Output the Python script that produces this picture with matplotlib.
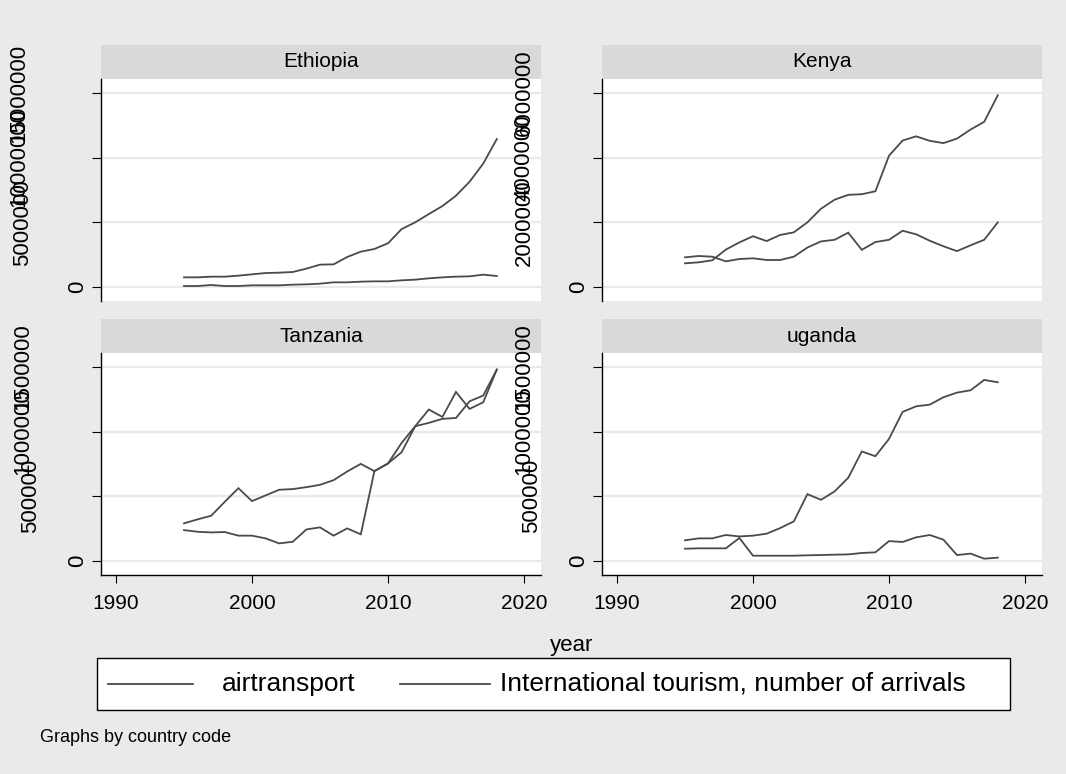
import matplotlib
matplotlib.use("Agg")
import matplotlib.pyplot as plt
from matplotlib import transforms as mtransforms
from matplotlib.patches import Rectangle
from matplotlib.lines import Line2D

plt.rcParams["font.family"] = ["Liberation Sans", "DejaVu Sans"]

# ---------------------------------------------------------------- data
years = list(range(1995, 2019))
countries = ["Ethiopia", "Kenya", "Tanzania", "uganda"]
series_labels = ["airtransport", "International tourism, number of arrivals"]

air_ethiopia = [747e3, 747e3, 799e3, 799e3, 876e3, 979e3, 1.08e6, 1.11e6,
                1.16e6, 1.42e6, 1.73e6, 1.75e6, 2.32e6, 2.73e6, 2.94e6, 3.38e6,
                4.48e6, 5.00e6, 5.64e6, 6.26e6, 7.06e6, 8.14e6, 9.54e6, 11.44e6]
tour_ethiopia = [77e3, 77e3, 155e3, 77e3, 77e3, 129e3, 129e3, 129e3,
                 180e3, 206e3, 258e3, 361e3, 361e3, 412e3, 438e3, 438e3,
                 515e3, 567e3, 670e3, 747e3, 799e3, 825e3, 954e3, 850e3]

air_kenya = [732e3, 763e3, 825e3, 1.155e6, 1.38e6, 1.57e6, 1.42e6, 1.61e6,
             1.69e6, 2.00e6, 2.42e6, 2.70e6, 2.85e6, 2.87e6, 2.96e6, 4.06e6,
             4.53e6, 4.66e6, 4.52e6, 4.45e6, 4.59e6, 4.87e6, 5.11e6, 5.93e6]
tour_kenya = [917e3, 959e3, 938e3, 794e3, 866e3, 887e3, 835e3, 835e3,
              938e3, 1.22e6, 1.41e6, 1.46e6, 1.68e6, 1.15e6, 1.39e6, 1.46e6,
              1.74e6, 1.63e6, 1.43e6, 1.26e6, 1.11e6, 1.29e6, 1.46e6, 2.00e6]

air_tanzania = [239e3, 226e3, 221e3, 224e3, 196e3, 196e3, 175e3, 136e3,
                149e3, 244e3, 260e3, 196e3, 252e3, 206e3, 695e3, 754e3,
                913e3, 1.042e6, 1.171e6, 1.114e6, 1.307e6, 1.176e6, 1.227e6, 1.48e6]
tour_tanzania = [291e3, 322e3, 350e3, 458e3, 563e3, 463e3, 507e3, 551e3,
                 556e3, 571e3, 589e3, 625e3, 692e3, 751e3, 695e3, 754e3,
                 841e3, 1.042e6, 1.068e6, 1.099e6, 1.106e6, 1.235e6, 1.279e6, 1.48e6]

air_uganda = [95e3, 98e3, 98e3, 98e3, 178e3, 41e3, 41e3, 41e3,
              41e3, 44e3, 46e3, 49e3, 51e3, 62e3, 67e3, 154e3,
              147e3, 183e3, 201e3, 165e3, 46e3, 57e3, 18e3, 26e3]
tour_uganda = [160e3, 175e3, 175e3, 201e3, 190e3, 196e3, 211e3, 255e3,
               306e3, 517e3, 473e3, 538e3, 643e3, 847e3, 810e3, 944e3,
               1.153e6, 1.196e6, 1.209e6, 1.266e6, 1.302e6, 1.32e6, 1.40e6, 1.382e6]

air_series = [air_ethiopia, air_kenya, air_tanzania, air_uganda]
tour_series = [tour_ethiopia, tour_kenya, tour_tanzania, tour_uganda]
y_steps = [5_000_000, 2_000_000, 500_000, 500_000]
x_ticks = [1990, 2000, 2010, 2020]

# ---------------------------------------------------------------- style
W, H = 1066, 774
BG = "#EAEAEA"
STRIP = "#D9D9D9"
LINE = "#4a4a4a"
GRID = "#EAEAEA"

fig = plt.figure(figsize=(W / 100, H / 100), dpi=100, facecolor=BG)

# panel boxes in pixels: left, top, right, bottom
boxes = [(101, 79, 541, 301), (602, 79, 1042, 301),
         (101, 353, 541, 575), (602, 353, 1042, 575)]
strip_h = 34


def add_px_axes(x0, y0, x1, y1):
    return fig.add_axes([x0 / W, 1 - y1 / H, (x1 - x0) / W, (y1 - y0) / H])


# horizontal distance (px) from the y axis to the centre of a rotated label
label_offset = {1: 23, 6: 70.5, 7: 78, 8: 82}

for i, (box, name) in enumerate(zip(boxes, countries)):
    ax = add_px_axes(*box)
    ax.set_facecolor("white")
    bottom_row = i >= 2
    ph = box[3] - box[1]

    ax.plot(years, air_series[i], color=LINE, lw=1.3, solid_joinstyle="miter")
    ax.plot(years, tour_series[i], color=LINE, lw=1.3, solid_joinstyle="miter")

    step = y_steps[i]
    ticks = [0, step, 2 * step, 3 * step]
    ax.set_ylim(-0.2165 * step, 3.2165 * step)
    ax.set_xlim(1988.897, 2021.25)
    ax.set_yticks(ticks)
    ax.tick_params(axis="y", length=6.5, width=0.8, color="black", labelleft=False)
    ax.grid(axis="y", color=GRID, lw=1.6)
    ax.set_axisbelow(True)

    for s in ("top", "right"):
        ax.spines[s].set_visible(False)
    ax.spines["left"].set_color("black")
    ax.spines["left"].set_linewidth(1.0)
    if bottom_row:
        ax.spines["bottom"].set_color("black")
        ax.spines["bottom"].set_linewidth(1.0)
        ax.set_xticks(x_ticks)
        ax.set_xticklabels([str(t) for t in x_ticks])
        ax.tick_params(axis="x", length=6, width=0.8, color="black",
                       pad=8, labelsize=15)
    else:
        ax.spines["bottom"].set_visible(False)
        ax.tick_params(axis="x", bottom=False, labelbottom=False)

    # rotated y tick labels
    base = mtransforms.blended_transform_factory(ax.transAxes, ax.transData)
    for v in ticks:
        txt = str(int(v))
        off = label_offset.get(len(txt), 23 + 9.3 * (len(txt) - 1))
        tr = base + mtransforms.ScaledTranslation(-off / 100, 0, fig.dpi_scale_trans)
        ax.text(0, v, txt, transform=tr, rotation=90, ha="center", va="center",
                fontsize=16, clip_on=False, zorder=10)

    # strip with the panel title
    ax.add_patch(Rectangle((0, 1), 1, strip_h / ph, transform=ax.transAxes,
                           clip_on=False, facecolor=STRIP, edgecolor="none"))
    ax.text(0.5, 1 + strip_h / 2 / ph, name, transform=ax.transAxes,
            ha="center", va="center", fontsize=15)

# shared x-axis title
fig.text(571.5 / W, 1 - 645 / H, "year", ha="center", va="center", fontsize=16)

# legend
fig.add_artist(Rectangle((97 / W, 1 - 710 / H), (1010 - 97) / W, 52 / H,
                         transform=fig.transFigure, facecolor="white",
                         edgecolor="black", lw=1.0))
ly = 1 - 684 / H
for (x0, x1, xt), lab in zip([(108, 193, 222), (400, 490, 500)], series_labels):
    fig.add_artist(Line2D([x0 / W, x1 / W], [ly, ly], transform=fig.transFigure,
                          color=LINE, lw=1.3))
    fig.text(xt / W, ly, lab, ha="left", va="center", fontsize=19)

fig.text(40 / W, 1 - 738 / H, "Graphs by country code", ha="left", va="center",
         fontsize=13)

fig.savefig("out.png", dpi=100, facecolor=BG)
